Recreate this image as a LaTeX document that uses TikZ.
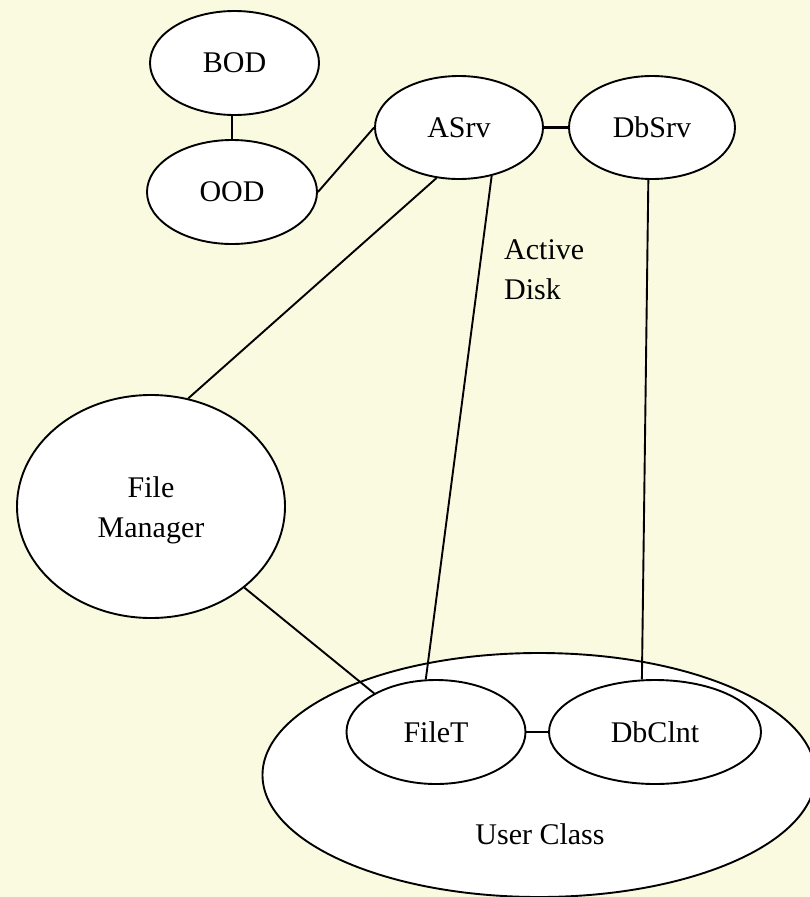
\documentclass[tikz,border=0pt]{standalone}
\usepackage{fontspec}
\setmainfont{Liberation Serif}
\usetikzlibrary{shapes.geometric}
\definecolor{paper}{RGB}{250,250,225}
\begin{document}
\begin{tikzpicture}[x=1bp,y=-1bp,
  every node/.style={font=\fontsize{30bp}{39.5bp}\selectfont},
  bubble/.style={ellipse, draw, fill=white, line width=1.9bp, inner sep=0pt},
  link/.style={line width=1.9bp},
  lbl/.style={inner sep=0pt}]

% canvas
\path[use as bounding box, fill=paper] (0,0) rectangle (810,897);
\clip (0,0) rectangle (810,897);

% upper classes
\node[bubble, minimum width=169bp, minimum height=104bp] (bod) at (234.5,63) {BOD};
\node[bubble, minimum width=170bp, minimum height=104bp] (ood) at (232,192) {OOD};
\node[bubble, minimum width=168bp, minimum height=103bp] (asrv) at (459,127.5) {ASrv};
\node[bubble, minimum width=166bp, minimum height=103bp] (dbsrv) at (652,127.5) {DbSrv};

% file manager
\node[bubble, minimum width=268bp, minimum height=223bp] (fm) at (151,506.5) {};
\node[lbl, align=center] (fmtext) at (151,510.5) {File\\Manager};

% user class with its two members
\node[bubble, minimum width=553bp, minimum height=244bp] (uc) at (539,775) {};
\node[lbl, anchor=base] (uctext) at (540,844) {User Class};
\node[bubble, minimum width=179bp, minimum height=104bp] (filet) at (436,732) {FileT};
\node[bubble, minimum width=212bp, minimum height=104bp] (dbclnt) at (655,732) {DbClnt};

% free label
\node[lbl, anchor=base west] (active) at (504,259) {Active};
\node[lbl, anchor=base west] (disk) at (504,299) {Disk};

% connectors
\draw[link] (ood.north |- bod.south) -- (ood.north);
\draw[link] (ood.east) -- (asrv.west);
\draw[line width=2.6bp] (asrv.east) -- (dbsrv.west);
\draw[link] (asrv.246) -- (fm.71);
\draw[link] (asrv.304.5) -- (filet.101.7);
\draw[link] (dbsrv.266.6) -- (dbclnt.104);
\draw[link] (fm.319.4) -- (filet.148.6);
\draw[link] (filet.east) -- (dbclnt.west);
\end{tikzpicture}
\end{document}
